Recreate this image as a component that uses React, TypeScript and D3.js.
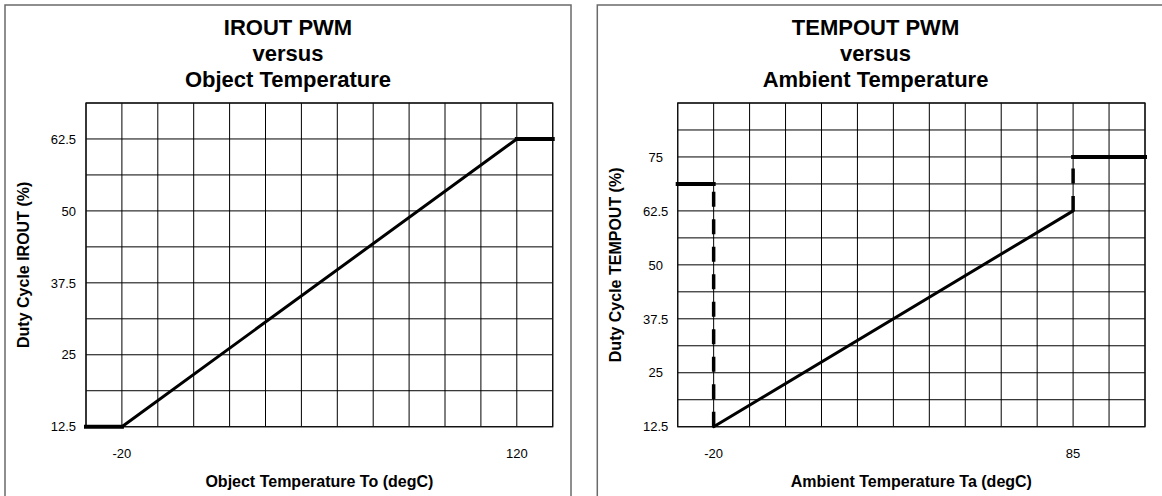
import React from "react";
import * as d3 from "d3";

// ---------- Left chart: IROUT PWM ----------
const irTitle = ["IROUT PWM", "versus", "Object Temperature"];
const irXLabel = "Object Temperature To (degC)";
const irYLabel = "Duty Cycle IROUT (%)";
const irXTicks = [-20, 120];
const irYTicks = [12.5, 25, 37.5, 50, 62.5];
const irXDomain = [-32.727, 132.727];
const irYDomain = [12.5, 68.75];
const irCols = 13;
const irRows = 9;
const irLowX = [-32.727, -20];
const irLowY = [12.5, 12.5];
const irRampX = [-20, 120];
const irRampY = [12.5, 62.5];
const irHighX = [120, 132.727];
const irHighY = [62.5, 62.5];

// ---------- Right chart: TEMPOUT PWM ----------
const tpTitle = ["TEMPOUT PWM", "versus", "Ambient Temperature"];
const tpXLabel = "Ambient Temperature Ta (degC)";
const tpYLabel = "Duty Cycle TEMPOUT (%)";
const tpXTicks = [-20, 85];
const tpYTicks = [12.5, 25, 37.5, 50, 62.5, 75];
const tpXDomain = [-30.5, 106];
const tpYDomain = [12.5, 87.5];
const tpCols = 13;
const tpRows = 12;
const tpLowX = [-30.5, -20];
const tpLowY = [68.75, 68.75];
const tpDropX = [-20, -20];
const tpDropY = [12.5, 68.75];
const tpRampX = [-20, 85];
const tpRampY = [12.5, 62.5];
const tpStepX = [85, 85];
const tpStepY = [62.5, 75];
const tpHighX = [85, 106];
const tpHighY = [75, 75];

type Seg = { xs: number[]; ys: number[]; kind: "thick" | "solid" | "dash" };

const FONT = "'Liberation Sans', Arial, Helvetica, sans-serif";

type PanelProps = {
  frameX: number;
  plotLeft: number;
  plotRight: number;
  titleCx: number;
  yTickX: number;
  yTickAnchor: "end" | "middle";
  yTitleX: number;
  title: string[];
  xLabel: string;
  yLabel: string;
  xTicks: number[];
  yTicks: number[];
  xDomain: number[];
  yDomain: number[];
  cols: number;
  rows: number;
  segs: Seg[];
};

function Panel(p: PanelProps) {
  const top = 103;
  const bottom = 426.7;
  const x = d3.scaleLinear().domain(p.xDomain).range([p.plotLeft, p.plotRight]);
  const y = d3.scaleLinear().domain(p.yDomain).range([bottom, top]);
  const xStep = (p.xDomain[1] - p.xDomain[0]) / p.cols;
  const yStep = (p.yDomain[1] - p.yDomain[0]) / p.rows;
  const vLines = d3.range(p.cols + 1).map((i) => p.xDomain[0] + i * xStep);
  const hLines = d3.range(p.rows + 1).map((i) => p.yDomain[0] + i * yStep);
  const line = d3
    .line<number>()
    .x((_, i) => 0)
    .y(() => 0);
  const mk = (s: Seg) =>
    d3
      .line<[number, number]>()
      .x((d) => x(d[0]))
      .y((d) => y(d[1]))(s.xs.map((v, i) => [v, s.ys[i]] as [number, number]));
  void line;
  const midY = (top + bottom) / 2;
  const midX = (p.plotLeft + p.plotRight) / 2;
  return (
    <g>
      <rect x={p.frameX} y={5} width={566} height={620} fill="none" stroke="#6a6a6a" strokeWidth={1.5} />
      {p.title.map((t, i) => (
        <text key={i} x={p.titleCx} y={35 + i * 26.2} textAnchor="middle" fontFamily={FONT} fontWeight="bold" fontSize={22} fill="#000">
          {t}
        </text>
      ))}
      {vLines.map((v, i) => (
        <line key={"v" + i} x1={x(v)} x2={x(v)} y1={top} y2={bottom} stroke="#000" strokeWidth={1} />
      ))}
      {hLines.map((v, i) => (
        <line key={"h" + i} x1={p.plotLeft} x2={p.plotRight} y1={y(v)} y2={y(v)} stroke="#000" strokeWidth={1} />
      ))}
      <rect x={p.plotLeft} y={top} width={p.plotRight - p.plotLeft} height={bottom - top} fill="none" stroke="#111" strokeWidth={1.3} />
      {p.yTicks.map((v, i) => (
        <text key={"yt" + i} x={p.yTickX} y={y(v) + 4.7} textAnchor={p.yTickAnchor} fontFamily={FONT} fontSize={13} fill="#000">
          {v}
        </text>
      ))}
      {p.xTicks.map((v, i) => (
        <text key={"xt" + i} x={x(v)} y={458} textAnchor="middle" fontFamily={FONT} fontSize={13} fill="#000">
          {v}
        </text>
      ))}
      <text x={midX} y={486.5} textAnchor="middle" fontFamily={FONT} fontWeight="bold" fontSize={16} fill="#000">
        {p.xLabel}
      </text>
      <text
        transform={`translate(${p.yTitleX},${midY}) rotate(-90)`}
        textAnchor="middle"
        fontFamily={FONT}
        fontWeight="bold"
        fontSize={16}
        fill="#000"
      >
        {p.yLabel}
      </text>
      {p.segs.map((s, i) => (
        <path
          key={"s" + i}
          d={mk(s) || ""}
          fill="none"
          stroke="#000"
          strokeWidth={s.kind === "thick" ? 4 : s.kind === "dash" ? 3.5 : 3}
          strokeLinecap={s.kind === "thick" ? "square" : s.kind === "solid" ? "round" : "butt"}
          strokeDasharray={s.kind === "dash" ? "15 12.5" : undefined}
        />
      ))}
    </g>
  );
}

export default function App() {
  return (
    <div style={{ position: "absolute", left: 0, top: 0, width: 1162, height: 496, background: "#fff" }}>
      <svg width={1162} height={496} style={{ display: "block" }}>
        <rect width={1162} height={496} fill="#fff" />
        <Panel
          frameX={5}
          plotLeft={86}
          plotRight={552.7}
          titleCx={288}
          yTickX={76}
          yTickAnchor="end"
          yTitleX={29}
          title={irTitle}
          xLabel={irXLabel}
          yLabel={irYLabel}
          xTicks={irXTicks}
          yTicks={irYTicks}
          xDomain={irXDomain}
          yDomain={irYDomain}
          cols={irCols}
          rows={irRows}
          segs={[
            { xs: irLowX, ys: irLowY, kind: "thick" },
            { xs: irRampX, ys: irRampY, kind: "solid" },
            { xs: irHighX, ys: irHighY, kind: "thick" },
          ]}
        />
        <Panel
          frameX={597.3}
          plotLeft={677.7}
          plotRight={1145}
          titleCx={875.5}
          yTickX={655.7}
          yTickAnchor="middle"
          yTitleX={620.5}
          title={tpTitle}
          xLabel={tpXLabel}
          yLabel={tpYLabel}
          xTicks={tpXTicks}
          yTicks={tpYTicks}
          xDomain={tpXDomain}
          yDomain={tpYDomain}
          cols={tpCols}
          rows={tpRows}
          segs={[
            { xs: tpLowX, ys: tpLowY, kind: "thick" },
            { xs: tpDropX, ys: tpDropY, kind: "dash" },
            { xs: tpRampX, ys: tpRampY, kind: "solid" },
            { xs: tpStepX, ys: tpStepY, kind: "dash" },
            { xs: tpHighX, ys: tpHighY, kind: "thick" },
          ]}
        />
      </svg>
    </div>
  );
}
